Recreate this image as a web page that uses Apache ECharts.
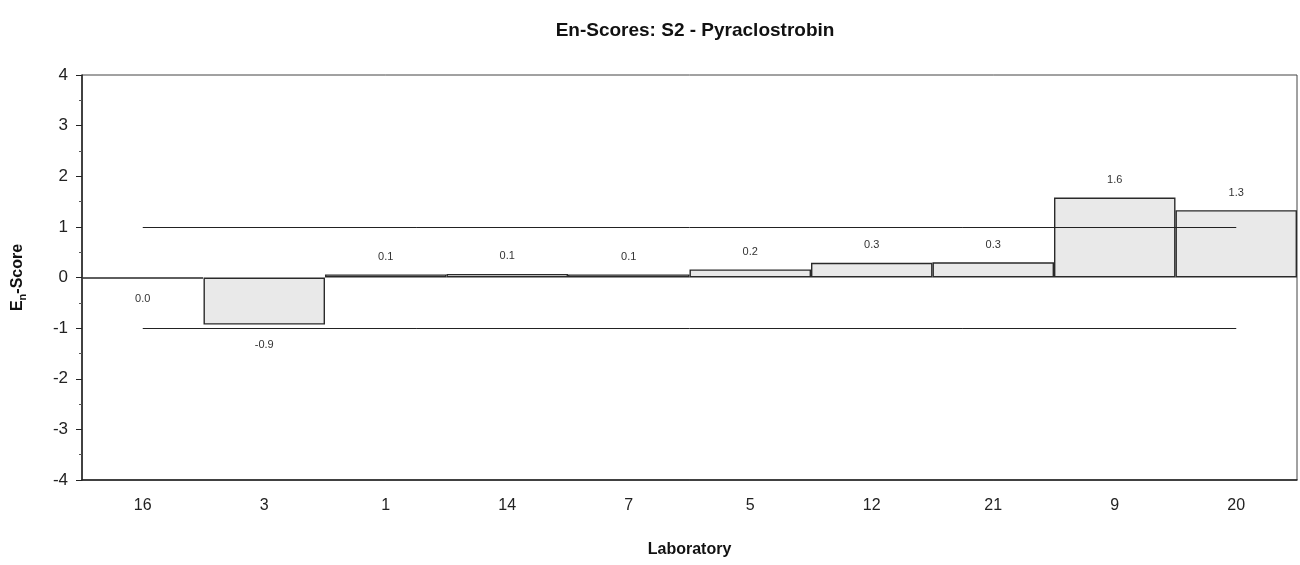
<!DOCTYPE html>
<html>
<head>
<meta charset="utf-8">
<script src="https://cdn.jsdelivr.net/npm/echarts@6/dist/echarts.min.js"></script>
<style>
  html, body { margin: 0; padding: 0; background: #fff; }
  #chart { width: 1300px; height: 565px; }
</style>
</head>
<body>
<div id="chart"></div>
<script>
// Laboratories in plotted order and their En-scores
const laboratories = ['16', '3', '1', '14', '7', '5', '12', '21', '9', '20'];
const enScores = [-0.02, -0.93, 0.06, 0.07, 0.06, 0.16, 0.29, 0.30, 1.58, 1.33];
// Acceptance limits (|En| <= 1)
const limits = [1, -1];
const yTicks = { min: -4, max: 4, interval: 1 };

const FONT = 'Liberation Sans, Arial, Helvetica, sans-serif';

// one decimal, never "-0.0"
const fmt = v => (Math.round(v * 10) / 10 + 0).toFixed(1);

const barData = enScores.map(v => ({
  value: v,
  label: {
    position: v < 0 ? 'bottom' : 'top',
    distance: v < 0 ? 15 : 12
  }
}));

const limitLines = limits.map(l => [
  { coord: [laboratories[0], l] },
  { coord: [laboratories[laboratories.length - 1], l] }
]);

const chart = echarts.init(document.getElementById('chart'), null, { renderer: 'canvas' });
chart.setOption({
  animation: false,
  backgroundColor: '#ffffff',
  title: {
    text: 'En-Scores: S2 - Pyraclostrobin',
    left: 690,
    top: 16,
    textAlign: 'center',
    textStyle: { fontFamily: FONT, fontSize: 19, fontWeight: 'bold', color: '#111' }
  },
  grid: {
    left: 82, right: 3, top: 75, bottom: 85,
    outerBoundsMode: 'none',
    containLabel: false,
    show: true, borderColor: '#444', borderWidth: 1, backgroundColor: 'transparent'
  },
  xAxis: {
    type: 'category',
    data: laboratories,
    name: 'Laboratory',
    nameLocation: 'middle',
    nameGap: 62,
    nameTextStyle: { fontFamily: FONT, fontSize: 16, fontWeight: 'bold', color: '#111' },
    axisLine: { show: true, onZero: false, lineStyle: { color: '#222', width: 1.5 } },
    axisTick: { show: false },
    axisLabel: { fontFamily: FONT, fontSize: 16, color: '#222', margin: 18 },
    splitLine: { show: false }
  },
  yAxis: {
    type: 'value',
    min: yTicks.min,
    max: yTicks.max,
    interval: yTicks.interval,
    name: '{m|E}{s|n}{m|-Score}',
    nameLocation: 'middle',
    nameGap: 54,
    nameRotate: 90,
    nameTextStyle: {
      rich: {
        m: { fontFamily: FONT, fontSize: 16, fontWeight: 'bold', color: '#111' },
        s: { fontFamily: FONT, fontSize: 11, fontWeight: 'bold', color: '#111', padding: [9, 0, 0, 0] }
      }
    },
    axisLine: { show: true, lineStyle: { color: '#222', width: 1.5 } },
    axisTick: { show: true, length: 6, lineStyle: { color: '#222' } },
    minorTick: { show: true, splitNumber: 2, length: 3, lineStyle: { color: '#555' } },
    axisLabel: { fontFamily: FONT, fontSize: 17, color: '#222', margin: 14 },
    splitLine: { show: false }
  },
  series: [{
    type: 'bar',
    data: barData,
    barCategoryGap: 0,
    barGap: 0,
    itemStyle: { color: '#e9e9e9', borderColor: '#2a2a2a', borderWidth: 1.4 },
    label: {
      show: true,
      fontFamily: FONT,
      fontSize: 11,
      color: '#333',
      formatter: p => fmt(p.value)
    },
    markLine: {
      silent: true,
      symbol: ['none', 'none'],
      label: { show: false },
      lineStyle: { color: '#222', width: 1, type: 'solid' },
      data: limitLines
    }
  }]
});
</script>
</body>
</html>
